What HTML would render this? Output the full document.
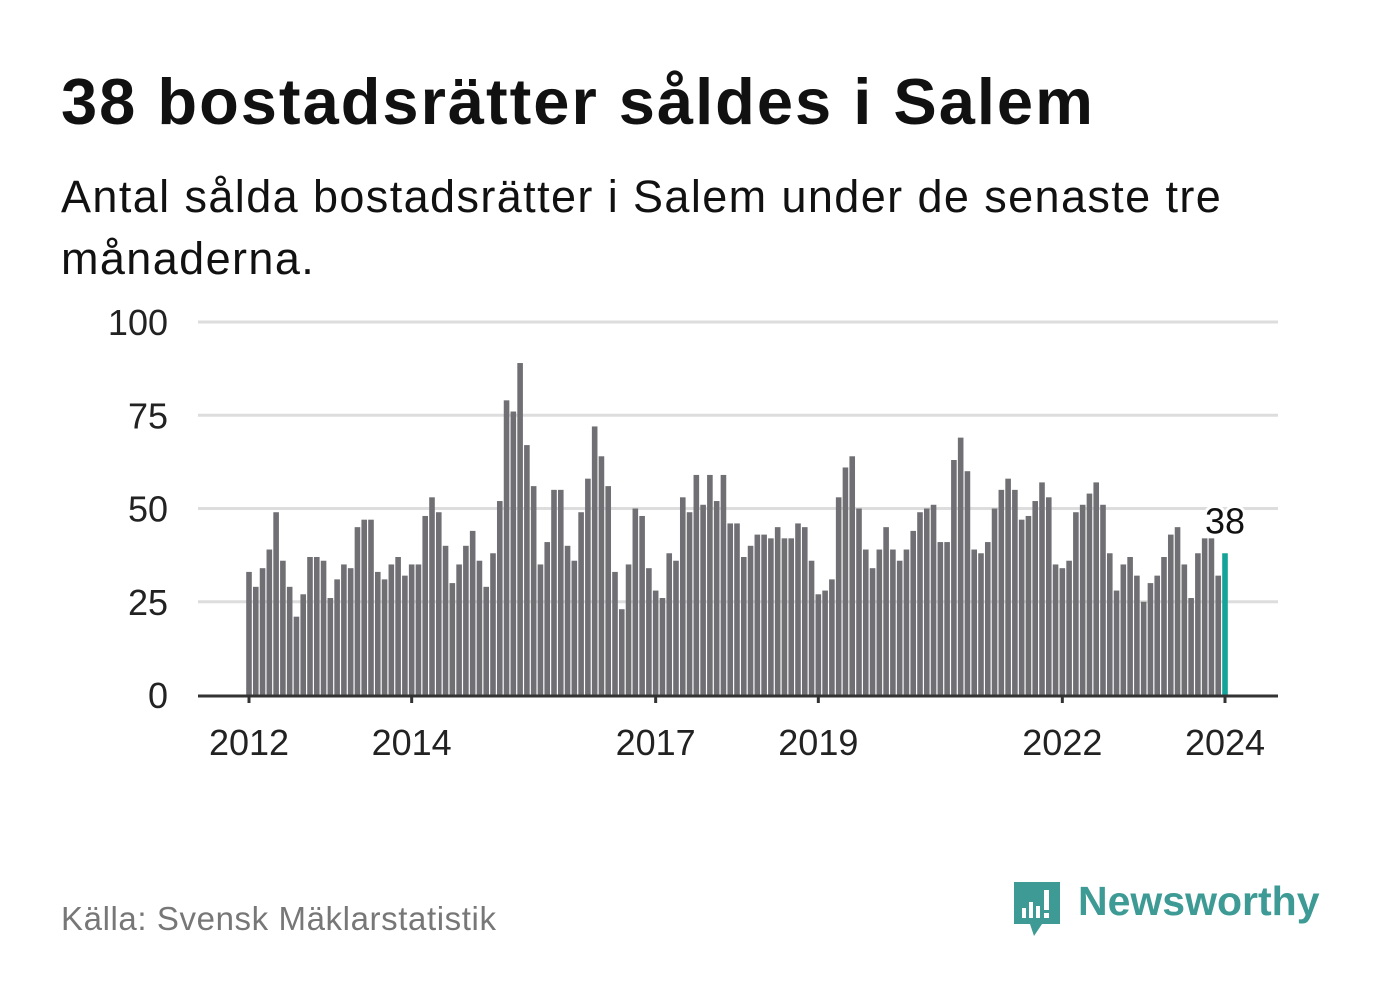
<!DOCTYPE html>
<html><head><meta charset="utf-8"><style>
body{margin:0;background:#fff;width:1382px;height:999px;overflow:hidden;font-family:"Liberation Sans",sans-serif;position:relative}
.t{position:absolute;left:61px;top:64px;font-size:65px;font-weight:bold;color:#111;margin:0;letter-spacing:2px;white-space:nowrap}
.s{position:absolute;left:61px;top:166px;font-size:45px;color:#111;line-height:62px;width:1230px;letter-spacing:1.4px}
.src{position:absolute;left:61px;top:900px;font-size:33px;color:#777;letter-spacing:0.6px}
.logo{position:absolute;left:1012px;top:880px}
.logo span{position:absolute;left:66px;top:-2px;font-size:41px;font-weight:bold;color:#3d9a94;white-space:nowrap}
</style></head><body>
<h1 class="t">38 bostadsrätter såldes i Salem</h1>
<div class="s">Antal sålda bostadsrätter i Salem under de senaste tre månaderna.</div>
<svg id="c" width="1382" height="999" style="position:absolute;left:0;top:0"></svg>
<div class="src">Källa: Svensk Mäklarstatistik</div>
<div class="logo">
<svg width="50" height="60"><path d="M2 2h46v42H30l-8 12-4-12H2z" fill="#3d9a94"/><rect x="10" y="28" width="4" height="10" fill="#fff"/><rect x="17" y="22" width="4" height="16" fill="#fff"/><rect x="24" y="26" width="4" height="12" fill="#fff"/><rect x="32" y="10" width="5" height="20" fill="#fff"/><rect x="32" y="33" width="5" height="5" fill="#fff"/></svg>
<span>Newsworthy</span></div>
<script>
const values=[33,29,34,39,49,36,29,21,27,37,37,36,
26,31,35,34,45,47,47,33,31,35,37,32,
35,35,48,53,49,40,30,35,40,44,36,29,
38,52,79,76,89,67,56,35,41,55,55,40,
36,49,58,72,64,56,33,23,35,50,48,34,
28,26,38,36,53,49,59,51,59,52,59,46,
46,37,40,43,43,42,45,42,42,46,45,36,
27,28,31,53,61,64,50,39,34,39,45,39,
36,39,44,49,50,51,41,41,63,69,60,39,
38,41,50,55,58,55,47,48,52,57,53,35,
34,36,49,51,54,57,51,38,28,35,37,32,
25,30,32,37,43,45,35,26,38,42,42,32,
38];
const yTicks=[0,25,50,75,100];
const xTickYears=[2012,2014,2017,2019,2022,2024];
const startYear=2012;
const svg=document.getElementById('c');const NS='http://www.w3.org/2000/svg';
const x0=249,x1=1225,yb=695,yt=322;
const y=v=>yb-(v/100)*(yb-yt);
const step=(x1-x0)/(values.length-1);
const x=i=>x0+i*step;
function mk(t,a){const e=document.createElementNS(NS,t);for(const k in a)e.setAttribute(k,a[k]);svg.appendChild(e);return e;}
yTicks.forEach(v=>{
 if(v>0){const g=mk('line',{x1:198,x2:1278,y1:y(v),y2:y(v),stroke:'#ddd','stroke-width':3});
 
 }
 const t=mk('text',{x:168,y:y(v)+13,'text-anchor':'end','font-size':36,fill:'#222','font-family':'Liberation Sans, sans-serif'});t.textContent=v;
 
 
});
values.forEach((v,i)=>{
 const last=i===values.length-1;
 const r=mk('rect',{x:x(i)-2.8,y:y(v),width:5.6,height:yb-y(v),fill:last?'#14a398':'#706f74'});
 
 
});
const ax=mk('line',{x1:198,x2:1278,y1:yb+1,y2:yb+1,stroke:'#333','stroke-width':3});


xTickYears.forEach(yr=>{
 const xx=x((yr-startYear)*12);
 const tk=mk('line',{x1:xx,x2:xx,y1:yb,y2:yb+8,stroke:'#333','stroke-width':3});
 
 
 const t=mk('text',{x:xx,y:yb+60,'text-anchor':'middle','font-size':36,fill:'#222','font-family':'Liberation Sans, sans-serif'});t.textContent=yr;
 
 
});
const li=values.length-1;
const lb=mk('text',{x:x(li),y:y(values[li])-20,'text-anchor':'middle','font-size':36,fill:'#111','font-family':'Liberation Sans, sans-serif',stroke:'#fff','stroke-width':6,'paint-order':'stroke'});
lb.textContent=values[li];


</script>
</body></html>
